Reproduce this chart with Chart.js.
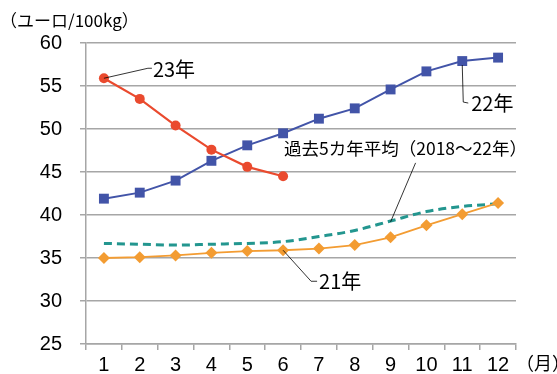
<!DOCTYPE html>
<html>
<head>
<meta charset="utf-8">
<script src="https://cdn.jsdelivr.net/npm/chart.js@4"></script>
<style>
  html, body { margin: 0; padding: 0; background: #fff; }
  #wrap { width: 557px; height: 374px; position: relative; }
</style>
</head>
<body>
<div id="wrap"><canvas id="priceChart" width="557" height="374"></canvas></div>
<script>
// monthly prices, euro / 100kg
const months = ["1", "2", "3", "4", "5", "6", "7", "8", "9", "10", "11", "12"]
const price23 = [55.9, 53.5, 50.4, 47.6, 45.6, 44.5]
const price22 = [41.9, 42.6, 44.0, 46.3, 48.1, 49.5, 51.2, 52.4, 54.6, 56.7, 57.9, 58.3]
const price21 = [35.0, 35.1, 35.3, 35.6, 35.8, 35.9, 36.1, 36.5, 37.4, 38.8, 40.1, 41.4]
const avg5yr = [36.7, 36.6, 36.5, 36.6, 36.7, 36.9, 37.5, 38.2, 39.3, 40.4, 41.0, 41.3]

const unitLabel = "（ユーロ/100kg）"
const monthUnit = "（月）"
const name23 = "23年"
const name22 = "22年"
const name21 = "21年"
const nameAvg = "過去5カ年平均（2018～22年）"

const GRID = "#A6A6A6"
const NUM_FONT = "'Liberation Sans', Arial, sans-serif"
const JP_FONT = "'Noto Sans CJK JP', 'Noto Sans', sans-serif"

// labels with leader lines, plus the axis caption texts
const calloutPlugin = {
    id: "callouts",
    afterDraw(chart) {
        const ctx = chart.ctx
        const xs = chart.scales.x
        const ys = chart.scales.y
        const pt = (i, v) => [xs.getPixelForValue(i), ys.getPixelForValue(v)]

        ctx.save()
        ctx.strokeStyle = "#000"
        ctx.lineWidth = 0.8
        ctx.fillStyle = "#000"
        ctx.textBaseline = "middle"

        const leader = (pts) => {
            ctx.beginPath()
            ctx.moveTo(pts[0][0], pts[0][1])
            for (let k = 1; k < pts.length; k++) ctx.lineTo(pts[k][0], pts[k][1])
            ctx.stroke()
        }

        // 23年
        let [px, py] = pt(0, price23[0])
        leader([[px, py], [px + 44, py - 10], [px + 48, py - 10]])
        ctx.font = "20px " + JP_FONT
        ctx.textAlign = "left"
        ctx.fillText(name23, px + 49, py - 9)

        // 22年
        ;[px, py] = pt(10, price22[10])
        leader([[px, py + 4], [px + 1, py + 41], [px + 6, py + 42]])
        ctx.fillText(name22, px + 9, py + 42)

        // 21年
        ;[px, py] = pt(5, price21[5])
        leader([[px, py], [px + 28, py + 31], [px + 34, py + 31]])
        ctx.fillText(name21, px + 36, py + 31)

        // five-year average
        ;[px, py] = pt(8, avg5yr[8] - 0.1)
        leader([[px, py], [px + 25, py - 59]])
        ctx.font = "17.5px " + JP_FONT
        ctx.fillText(nameAvg, 284, py - 74)

        // axis captions
        ctx.font = "17px " + JP_FONT
        ctx.fillText(unitLabel, 0, 21)
        ctx.font = "18px " + JP_FONT
        ctx.fillText(monthUnit, 516, 363)
        ctx.restore()
    }
}

const ctx = document.getElementById("priceChart").getContext("2d")
const priceChart = new Chart(ctx, {
    type: "line",
    data: {
        labels: months,
        datasets: [
            {
                label: name23,
                data: price23,
                borderColor: "#EA4A2E",
                backgroundColor: "#EA4A2E",
                borderWidth: 2.2,
                pointStyle: "circle",
                pointRadius: 5,
                pointBorderWidth: 0,
                tension: 0
            },
            {
                label: name22,
                data: price22,
                borderColor: "#4254A8",
                backgroundColor: "#4254A8",
                borderWidth: 2,
                pointStyle: "rect",
                pointRadius: 7,
                pointBorderWidth: 0,
                tension: 0
            },
            {
                label: name21,
                data: price21,
                borderColor: "#F39C32",
                backgroundColor: "#F39C32",
                borderWidth: 1.8,
                pointStyle: "rectRot",
                pointRadius: 6,
                pointBorderWidth: 0,
                tension: 0
            },
            {
                label: nameAvg,
                data: avg5yr,
                borderColor: "#23968F",
                borderWidth: 3,
                borderDash: [8, 5],
                pointRadius: 0,
                cubicInterpolationMode: "monotone"
            }
        ]
    },
    options: {
        responsive: false,
        animation: false,
        layout: { padding: { top: 43, right: 41, left: 0, bottom: 0 } },
        plugins: {
            legend: { display: false },
            tooltip: { enabled: false }
        },
        scales: {
            x: {
                offset: true,
                grid: {
                    offset: true,
                    drawOnChartArea: false,
                    drawTicks: true,
                    tickLength: 6,
                    color: GRID,
                    lineWidth: 1.5
                },
                border: { color: GRID, width: 1.5 },
                ticks: {
                    color: "#000",
                    padding: 3,
                    maxRotation: 0,
                    font: { family: NUM_FONT, size: 20 }
                },
                afterFit(scale) { scale.height = 29 }
            },
            y: {
                min: 25,
                max: 60,
                ticks: {
                    stepSize: 5,
                    color: "#000",
                    padding: 18,
                    font: { family: NUM_FONT, size: 20 }
                },
                grid: {
                    color: GRID,
                    lineWidth: 1.5,
                    tickLength: 6
                },
                border: { color: GRID, width: 1.5 },
                afterFit(scale) { scale.width = 86 }
            }
        }
    },
    plugins: [calloutPlugin]
})
</script>
</body>
</html>
